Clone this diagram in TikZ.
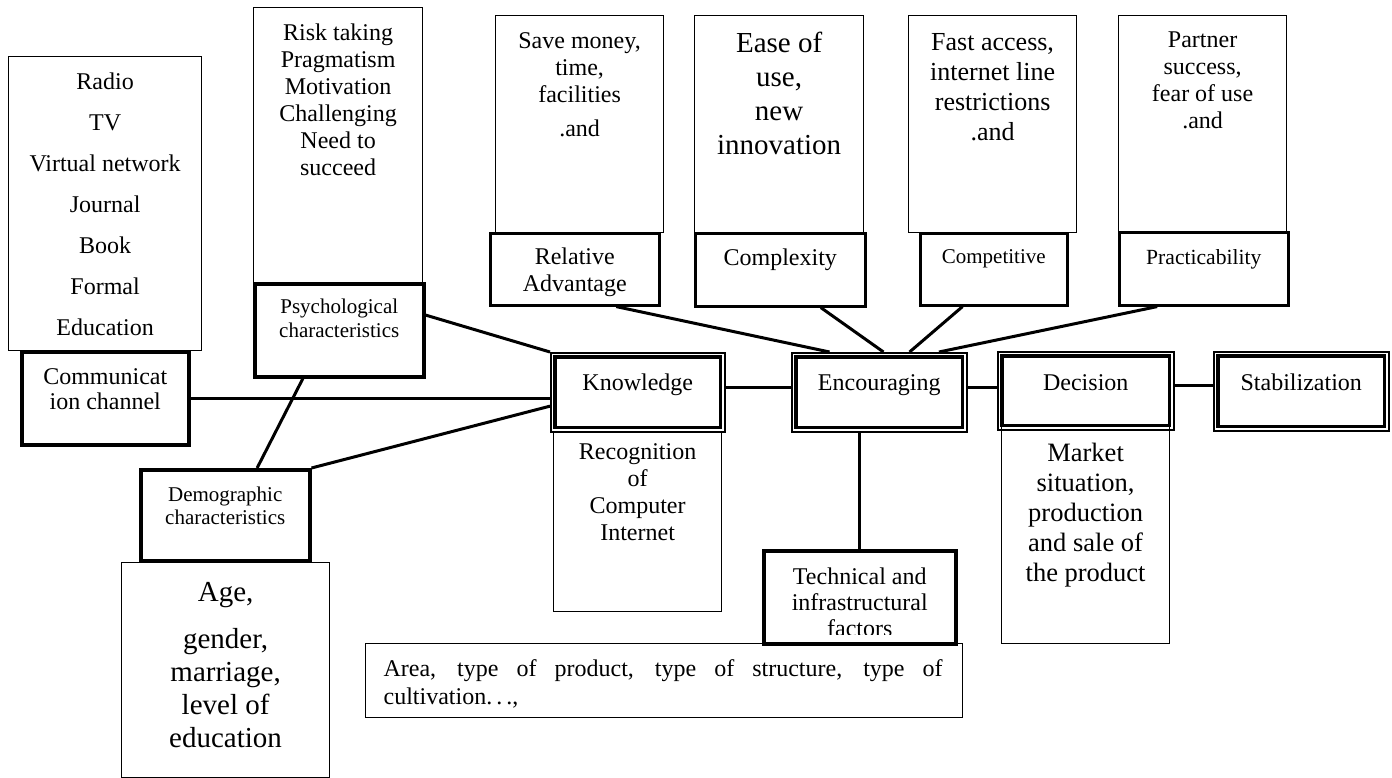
\documentclass[tikz,border=0pt]{standalone}
\usepackage{fontspec}
\setmainfont{Liberation Serif}
\usetikzlibrary{positioning}

\begin{document}
\begin{tikzpicture}[x=1pt, y=1pt, node distance=17pt,
  listbox/.style = {draw, line width=1.2pt, inner sep=0pt, anchor=north west},
  headbox/.style = {draw, line width=2.6pt, inner sep=0pt, anchor=north west},
  factorbox/.style = {draw, line width=3.5pt, inner sep=0pt, anchor=north west},
  stagebox/.style = {draw, line width=1.5pt, inner sep=0pt, anchor=north west,
                     minimum width=175pt, minimum height=79pt},
  link/.style = {line width=3pt},
  txt/.style = {align=center, inner sep=0pt, font=\fontsize{24}{27}\selectfont},
  small/.style = {txt, font=\fontsize{21}{23.5}\selectfont}]
  \useasboundingbox (0,0) rectangle (1392,-778);

  % channels and personal factors
  \node[listbox, minimum width=193pt, minimum height=294pt] (media) at (8,-56) {};
  \node[txt, font=\fontsize{24}{41}\selectfont, below=17pt of media.north] {Radio\\TV\\Virtual network\\Journal\\Book\\Formal\\Education};
  \node[factorbox, minimum width=167pt, minimum height=93pt] (comm) at (20,-350) {};
  \node[txt, font=\fontsize{24}{25}\selectfont, below=18pt of comm.north] {Communicat\\ion channel};

  \node[listbox, minimum width=169pt, minimum height=275pt] (traits) at (253,-7) {};
  \node[txt, below=17pt of traits.north] {Risk taking\\Pragmatism\\Motivation\\Challenging\\Need to\\succeed};
  \node[factorbox, minimum width=169pt, minimum height=93pt] (psych) at (253,-282) {};
  \node[small, below=17pt of psych.north] {Psychological\\characteristics};

  \node[factorbox, minimum width=169pt, minimum height=91pt] (demog) at (139,-468) {};
  \node[small, font=\fontsize{21}{22.5}\selectfont, below=19pt of demog.north] {Demographic\\characteristics};
  \node[listbox, minimum width=208pt, minimum height=215pt] (age) at (121,-562) {};
  \node[txt, font=\fontsize{29}{33}\selectfont, below=20pt of age.north] {Age,\\[14pt]gender,\\marriage,\\level of\\education};

  % innovation attributes
  \node[listbox, minimum width=168pt, minimum height=217pt] (savings) at (495,-15) {};
  \node[txt, below=17pt of savings.north] {Save money,\\time,\\facilities\\[7pt].and};
  \node[headbox, minimum width=169pt, minimum height=72pt] (rel) at (489,-232) {};
  \begin{scope}
    \clip (rel.north west) rectangle ([yshift=10pt]rel.south east);
    \node[txt, below=16pt of rel.north] {Relative\\Advantage};
  \end{scope}

  \node[listbox, minimum width=169pt, minimum height=217pt] (ease) at (694,-15) {};
  \node[txt, font=\fontsize{29}{34}\selectfont, below=17pt of ease.north] {Ease of\\use,\\new\\innovation};
  \node[headbox, minimum width=170pt, minimum height=73pt] (cplx) at (694,-232) {};
  \node[txt, below=17pt of cplx.north] {Complexity};

  \node[listbox, minimum width=168pt, minimum height=217pt] (access) at (908,-15) {};
  \node[txt, font=\fontsize{26}{30}\selectfont, below=18pt of access.north] {Fast access,\\internet line\\restrictions\\.and};
  \node[headbox, minimum width=147pt, minimum height=72pt] (comp) at (919,-232) {};
  \node[small, below=17pt of comp.north] {Competitive};

  \node[listbox, minimum width=168pt, minimum height=216pt] (partner) at (1118,-15) {};
  \node[txt, below=17pt of partner.north] {Partner\\success,\\fear of use\\.and};
  \node[headbox, minimum width=169pt, minimum height=73pt] (prac) at (1118,-231) {};
  \node[small, font=\fontsize{21.6}{24}\selectfont, below=18pt of prac.north] {Practicability};

  % adoption stages
  \node[listbox, minimum width=168pt, minimum height=180pt] (recog) at (553,-431) {};
  \node[txt, below=12pt of recog.north] {Recognition\\of\\Computer\\Internet};
  \node[listbox, minimum width=168pt, minimum height=217pt] (market) at (1001,-426) {};
  \node[txt, font=\fontsize{26.5}{30}\selectfont, below=17pt of market.north] {Market\\situation,\\production\\and sale of\\the product};

  \node[stagebox, minimum width=174pt] (know) at (550,-352) {};
  \node[stagebox] (enc) at (791,-352) {};
  \node[stagebox, minimum width=176pt, minimum height=78pt] (dec) at (997,-351) {};
  \node[stagebox] (stab) at (1213,-351) {};
  \foreach \s in {know,enc,dec,stab}
    \draw[line width=3.2pt] ([shift={(5pt,-5pt)}]\s.north west) rectangle ([shift={(-5pt,5pt)}]\s.south east);
  \node[txt, below=22pt of know.north] {Knowledge};
  \node[txt, below=22pt of enc.north] {Encouraging};
  \node[txt, below=23pt of dec.north] {Decision};
  \node[txt, below=23pt of stab.north] {Stabilization};

  \node[factorbox, minimum width=192pt, minimum height=93pt] (tech) at (762,-549) {};
  \begin{scope}
    \clip (tech.north west) rectangle ([yshift=11pt]tech.south east);
    \node[txt, font=\fontsize{24}{26}\selectfont, below=19pt of tech.north] {Technical and\\infrastructural\\factors};
  \end{scope}
  \node[listbox, minimum width=597pt, minimum height=74pt] (area) at (365,-643) {};
  \node[txt, text width=559pt, align=justify, font=\fontsize{24}{28}\selectfont, below=16pt of area.north, xshift=-1pt]
    {Area, type of product, type of structure, type of\linebreak cultivation.\,.\,.,};

  % connectors
  \draw[link] (psych.10) -- (know.north west);
  \draw[link] (comm.east) -- (comm.east -| know.west);
  \draw[link] (psych.-127) -- (demog.56);
  \draw[link] (demog.north east) -- (know.189);
  \draw[link] (rel.-42) -- (enc.141);
  \draw[link] (cplx.-43) -- (enc.84);
  \draw[link] (comp.-130) -- (enc.53);
  \draw[link] (prac.-141) -- (enc.34);
  \draw[link] ([yshift=5pt]know.east) -- ([yshift=5pt]know.east -| enc.west);
  \draw[link] ([yshift=5pt]enc.east) -- ([yshift=5pt]enc.east -| dec.west);
  \draw[link] ([yshift=5pt]dec.east) -- ([yshift=5pt]dec.east -| stab.west);
  \draw[link] (tech.north |- enc.south) -- (tech.north);
\end{tikzpicture}
\end{document}
